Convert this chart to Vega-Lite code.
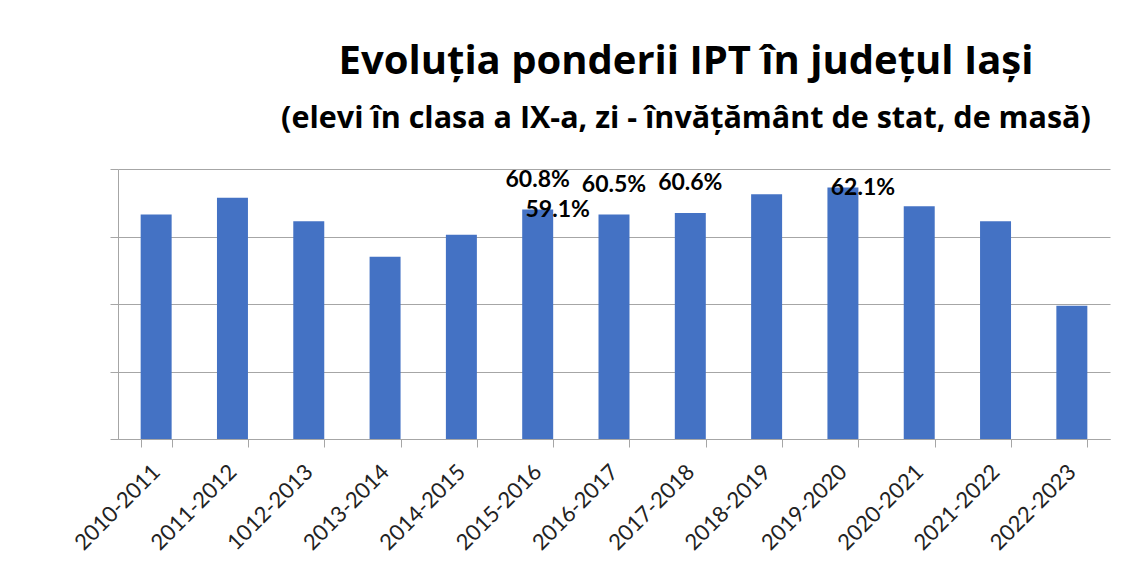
{
  "$schema": "https://vega.github.io/schema/vega-lite/v6.json",
  "width": 992,
  "height": 270,
  "autosize": {"type": "none"},
  "padding": {"left": 118, "top": 169, "right": 15, "bottom": 133},
  "background": "white",
  "config": {"view": {"stroke": null}},
  "datasets": {
    "bars": [
      {"year": "2010-2011", "value": 60.5},
      {"year": "2011-2012", "value": 61.5},
      {"year": "1012-2013", "value": 60.1},
      {"year": "2013-2014", "value": 58.0},
      {"year": "2014-2015", "value": 59.3},
      {"year": "2015-2016", "value": 60.8},
      {"year": "2016-2017", "value": 60.5},
      {"year": "2017-2018", "value": 60.6},
      {"year": "2018-2019", "value": 61.7},
      {"year": "2019-2020", "value": 62.1},
      {"year": "2020-2021", "value": 61.0},
      {"year": "2021-2022", "value": 60.1},
      {"year": "2022-2023", "value": 55.1}
    ],
    "labels": [
      {"year": "2015-2016", "value": 60.8, "text": "60.8%", "place": "above"},
      {"year": "2015-2016", "value": 60.8, "text": "59.1%", "place": "side"},
      {"year": "2016-2017", "value": 60.5, "text": "60.5%", "place": "above"},
      {"year": "2017-2018", "value": 60.6, "text": "60.6%", "place": "above"},
      {"year": "2019-2020", "value": 62.1, "text": "62.1%", "place": "side"}
    ]
  },
  "title": {
    "text": "Evoluția ponderii IPT în județul Iași",
    "subtitle": "(elevi în clasa a IX-a, zi - învățământ de stat, de masă)",
    "anchor": "middle",
    "dx": 72,
    "font": "Open Sans",
    "fontSize": 40,
    "fontWeight": "bold",
    "color": "black",
    "subtitleFont": "Open Sans",
    "subtitleFontSize": 30.5,
    "subtitleFontWeight": "bold",
    "subtitleColor": "black",
    "subtitlePadding": 22,
    "offset": 34
  },
  "layer": [
    {
      "data": {"name": "bars"},
      "mark": {"type": "bar", "color": "#4472C4"},
      "encoding": {
        "x": {
          "field": "year",
          "type": "nominal",
          "sort": null,
          "scale": {
            "domain": ["2010-2011", "2011-2012", "1012-2013", "2013-2014", "2014-2015", "2015-2016", "2016-2017", "2017-2018", "2018-2019", "2019-2020", "2020-2021", "2021-2022", "2022-2023"],
            "paddingInner": 0.594,
            "paddingOuter": 0.297
          },
          "axis": {
            "title": null,
            "labelAngle": -45,
            "labelAlign": "right",
            "labelBaseline": "middle",
            "labelFont": "Lato",
            "labelFontSize": 22,
            "labelColor": "#222222",
            "labelPadding": 21,
            "tickBand": "extent",
            "tickSize": 8,
            "tickColor": "#a6a6a6",
            "domainColor": "#a6a6a6",
            "grid": false
          }
        },
        "y": {
          "field": "value",
          "type": "quantitative",
          "scale": {"domain": [47.2, 63.2], "zero": false, "nice": false},
          "axis": {
            "title": null,
            "values": [47.2, 51.2, 55.2, 59.2, 63.2],
            "labels": false,
            "grid": true,
            "gridColor": "#a6a6a6",
            "domain": true,
            "domainColor": "#a6a6a6",
            "ticks": true,
            "tickSize": 8,
            "tickColor": "#a6a6a6"
          }
        },
        "y2": {"datum": 47.2}
      }
    },
    {
      "data": {"name": "labels"},
      "transform": [{"filter": "datum.place === 'above'"}],
      "mark": {"type": "text", "font": "Lato", "fontWeight": "bold", "fontSize": 23, "baseline": "middle", "dy": -30, "color": "black"},
      "encoding": {
        "x": {"field": "year", "type": "nominal", "sort": null},
        "y": {"field": "value", "type": "quantitative"},
        "text": {"field": "text"}
      }
    },
    {
      "data": {"name": "labels"},
      "transform": [{"filter": "datum.place === 'side'"}],
      "mark": {"type": "text", "font": "Lato", "fontWeight": "bold", "fontSize": 23, "baseline": "middle", "dx": 20, "dy": 0, "color": "black"},
      "encoding": {
        "x": {"field": "year", "type": "nominal", "sort": null},
        "y": {"field": "value", "type": "quantitative"},
        "text": {"field": "text"}
      }
    }
  ]
}
